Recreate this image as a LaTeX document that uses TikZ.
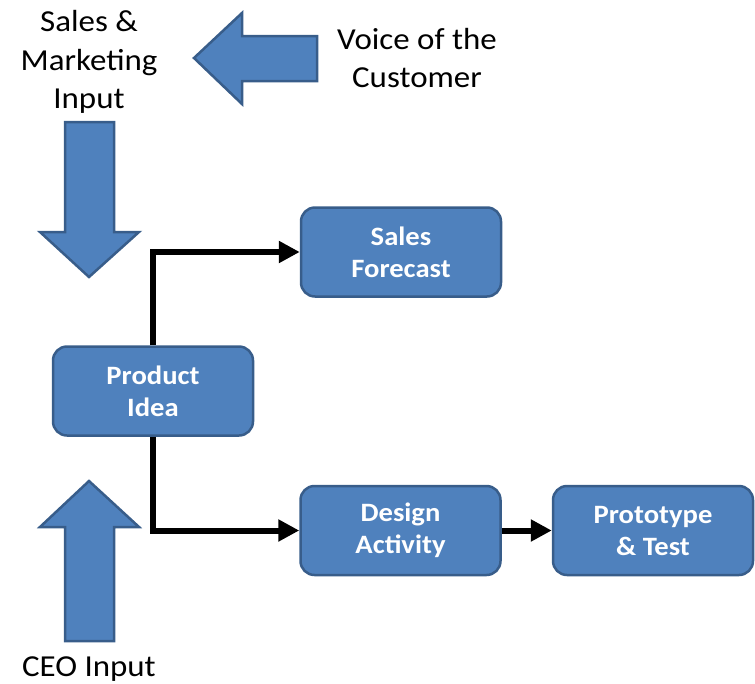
\documentclass[tikz,border=0pt]{standalone}
\usepackage{fontspec}
\setmainfont{Carlito}[FakeStretch=1.08]
\usetikzlibrary{arrows.meta}
\definecolor{boxfill}{HTML}{4F81BD}
\definecolor{boxline}{HTML}{385D8A}
\tikzset{
  stepbox/.style={draw=boxline, line width=2.5pt, fill=boxfill, rounded corners=14pt,
    minimum width=200pt, minimum height=89pt, align=center, text=white,
    font=\fontsize{26.5}{32}\selectfont\bfseries, inner sep=0pt},
  label/.style={align=center, text=black, font=\fontsize{30.5}{38.5}\selectfont, inner sep=0pt},
  blockarrow/.style={draw=boxline, line width=2.5pt, fill=boxfill, line join=miter},
  conn/.style={draw=black, line width=6pt, line join=miter,
    -{Triangle[length=21pt,width=21pt]}}
}
\begin{document}
\begin{tikzpicture}[x=1pt,y=-1pt]
\useasboundingbox (0,0) rectangle (755,683);
% block arrows
\draw[blockarrow] (65,122) -- (114,122) -- (114,232) -- (139,232) -- (89,277) -- (40,232) -- (65,232) -- cycle;
\draw[blockarrow] (317,36) -- (317,81) -- (242,81) -- (242,104) -- (194,58) -- (242,13) -- (242,36) -- cycle;
\draw[blockarrow] (65,641) -- (114,641) -- (114,527) -- (139,527) -- (89,481) -- (40,527) -- (65,527) -- cycle;
% labels
\node[label] (sm) at (89,62) {Sales \&\\Marketing\\Input};
\node[label] (voc) at (417,58) {Voice of the\\Customer};
\node[label] (ceo) at (89,669) {CEO Input};
% boxes
\node[stepbox] (fc) at (401,252) {Sales\\Forecast};
\node[stepbox] (idea) at (153,391) {Product\\Idea};
\node[stepbox] (design) at (400.5,530.5) {Design\\Activity};
\node[stepbox] (proto) at (653,530.5) {Prototype\\\& Test};
% connectors
\draw[conn] (idea.north) |- (fc.west);
\draw[conn] (idea.south) |- (design.west);
\draw[conn] (design.east) -- (proto.west);
\end{tikzpicture}
\end{document}
